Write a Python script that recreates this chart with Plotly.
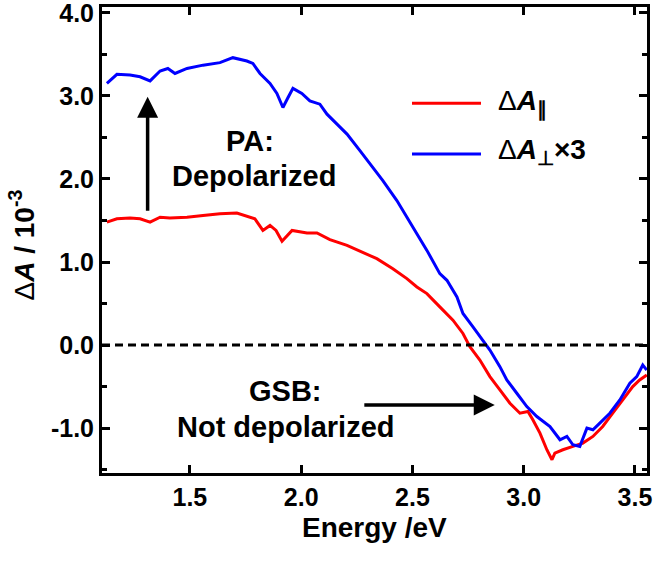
import plotly.graph_objects as go

# Energy (eV) and ΔA values (×10^-3)
energy_par = [1.127, 1.172, 1.231, 1.276, 1.321, 1.366, 1.410, 1.487, 1.559, 1.635,
              1.711, 1.756, 1.792, 1.828, 1.860, 1.887, 1.914, 1.959, 2.026, 2.071,
              2.129, 2.206, 2.277, 2.340, 2.412, 2.475, 2.520, 2.565, 2.623, 2.682,
              2.727, 2.758, 2.803, 2.848, 2.893, 2.938, 2.983, 3.019, 3.041, 3.073,
              3.104, 3.127, 3.140, 3.176, 3.221, 3.266, 3.311, 3.355, 3.400, 3.445,
              3.490, 3.521, 3.553]
dA_par = [1.48, 1.52, 1.53, 1.52, 1.48, 1.54, 1.53, 1.54, 1.56, 1.58,
          1.59, 1.55, 1.52, 1.38, 1.44, 1.38, 1.25, 1.38, 1.35, 1.35,
          1.27, 1.20, 1.12, 1.04, 0.92, 0.80, 0.70, 0.62, 0.46, 0.30,
          0.14, -0.02, -0.18, -0.38, -0.54, -0.70, -0.82, -0.80, -0.90, -1.06,
          -1.26, -1.38, -1.30, -1.26, -1.22, -1.18, -1.10, -0.98, -0.82, -0.66,
          -0.50, -0.42, -0.36]

energy_perp = [1.127, 1.172, 1.231, 1.276, 1.321, 1.366, 1.401, 1.433, 1.487, 1.559,
               1.635, 1.693, 1.756, 1.783, 1.815, 1.860, 1.891, 1.918, 1.941, 1.963,
               2.003, 2.039, 2.084, 2.116, 2.161, 2.206, 2.264, 2.322, 2.367, 2.430,
               2.502, 2.565, 2.623, 2.655, 2.700, 2.727, 2.772, 2.817, 2.848, 2.893,
               2.924, 2.969, 3.014, 3.059, 3.118, 3.163, 3.194, 3.221, 3.252, 3.284,
               3.311, 3.342, 3.387, 3.432, 3.477, 3.508, 3.535, 3.553]
dA_perp_x3 = [3.15, 3.26, 3.25, 3.23, 3.18, 3.30, 3.33, 3.27, 3.33, 3.37,
              3.40, 3.46, 3.42, 3.39, 3.27, 3.15, 3.03, 2.86, 2.98, 3.09,
              3.03, 2.94, 2.90, 2.78, 2.66, 2.54, 2.34, 2.14, 1.98, 1.74,
              1.42, 1.14, 0.86, 0.78, 0.58, 0.38, 0.22, 0.06, -0.06, -0.26,
              -0.42, -0.58, -0.74, -0.86, -0.98, -1.14, -1.10, -1.20, -1.22, -1.00,
              -1.02, -0.94, -0.82, -0.66, -0.46, -0.38, -0.24, -0.30]

x_ticks = [1.5, 2.0, 2.5, 3.0, 3.5]
x_ticklabels = ["1.5", "2.0", "2.5", "3.0", "3.5"]
y_ticks = [-1, 0, 1, 2, 3, 4]
y_ticklabels = ["-1.0", "0.0", "1.0", "2.0", "3.0", "4.0"]

FONT = "Liberation Sans, Arial, sans-serif"
RED = "#ff0000"
BLUE = "#0000ff"

fig = go.Figure()
fig.add_trace(go.Scatter(x=energy_par, y=dA_par, mode="lines", name="ΔA∥",
                         line=dict(color=RED, width=3)))
fig.add_trace(go.Scatter(x=energy_perp, y=dA_perp_x3, mode="lines", name="ΔA⊥×3",
                         line=dict(color=BLUE, width=3)))

axis_common = dict(showline=True, linecolor="black", linewidth=3, mirror="ticks",
                   ticks="inside", ticklen=8, tickwidth=3, tickcolor="black",
                   showgrid=False, zeroline=False, automargin=False,
                   ticklabeloverflow="allow",
                   tickfont=dict(family=FONT, size=25, color="black", weight="bold"))

fig.update_xaxes(range=[1.105, 3.554], tickvals=x_ticks, ticktext=x_ticklabels,
                 **axis_common)
fig.update_yaxes(range=[-1.54, 4.07], tickvals=y_ticks, ticktext=y_ticklabels,
                 minor=dict(tickvals=[-1.5, -0.5, 0.5, 1.5, 2.5, 3.5], ticks="inside",
                            ticklen=5, tickwidth=3, tickcolor="black"),
                 **axis_common)

txt = dict(family=FONT, size=29, color="black", weight="bold")
annotations = [
    dict(text="PA:", x=1.77, y=2.46, xref="x", yref="y", showarrow=False, font=txt),
    dict(text="Depolarized", x=1.79, y=2.04, xref="x", yref="y", showarrow=False, font=txt),
    dict(text="GSB:", x=1.93, y=-0.55, xref="x", yref="y", showarrow=False, font=txt),
    dict(text="Not depolarized", x=1.93, y=-0.99, xref="x", yref="y", showarrow=False, font=txt),
    # up arrow
    dict(x=1.31, y=2.99, ax=1.31, ay=1.6, xref="x", yref="y", axref="x", ayref="y",
         text="", showarrow=True, arrowhead=2, arrowsize=1.2, arrowwidth=3.5, arrowcolor="black"),
    # right arrow
    dict(x=2.87, y=-0.72, ax=2.277, ay=-0.72, xref="x", yref="y", axref="x", ayref="y",
         text="", showarrow=True, arrowhead=2, arrowsize=1.2, arrowwidth=3.5, arrowcolor="black"),
    # axis titles
    dict(text="Energy /eV", x=0.5, y=-0.118, xref="paper", yref="paper", showarrow=False,
         xanchor="center", yanchor="middle",
         font=dict(family=FONT, size=28, color="black", weight="bold")),
    dict(text="<span style='font-weight:normal'>Δ</span><i>A</i> / 10<sup>-3</sup>",
         x=-0.147, y=0.49, xref="paper", yref="paper", showarrow=False, textangle=-90,
         xanchor="center", yanchor="middle",
         font=dict(family=FONT, size=28, color="black", weight="bold")),
    # legend texts
    dict(text="<span style='font-weight:normal'>Δ</span><i>A</i><sub>∥</sub>",
         x=2.875, y=2.92, xref="x", yref="y", showarrow=False, xanchor="left",
         font=dict(family=FONT, size=28, color="black", weight="bold")),
    dict(text="<span style='font-weight:normal'>Δ</span><i>A</i><sub>⊥</sub>×3",
         x=2.875, y=2.33, xref="x", yref="y", showarrow=False, xanchor="left",
         font=dict(family=FONT, size=28, color="black", weight="bold")),
]

shapes = [
    dict(type="line", x0=0, x1=1, y0=0, y1=0, xref="x domain", yref="y",
         line=dict(color="black", width=3, dash="8px,5px")),
    dict(type="line", x0=2.498, x1=2.808, y0=2.91, y1=2.91, xref="x", yref="y",
         line=dict(color=RED, width=3)),
    dict(type="line", x0=2.498, x1=2.808, y0=2.30, y1=2.30, xref="x", yref="y",
         line=dict(color=BLUE, width=3)),
]

fig.update_layout(width=658, height=562, margin=dict(l=102, r=11, t=7, b=89),
                  plot_bgcolor="white", paper_bgcolor="white", showlegend=False,
                  annotations=annotations, shapes=shapes,
                  font=dict(family=FONT))

# remove the default 8px page margin so the figure sits at the window's corner
fig.write_html("out.html", config={"displayModeBar": False},
               post_script="document.body.style.margin='0';")
